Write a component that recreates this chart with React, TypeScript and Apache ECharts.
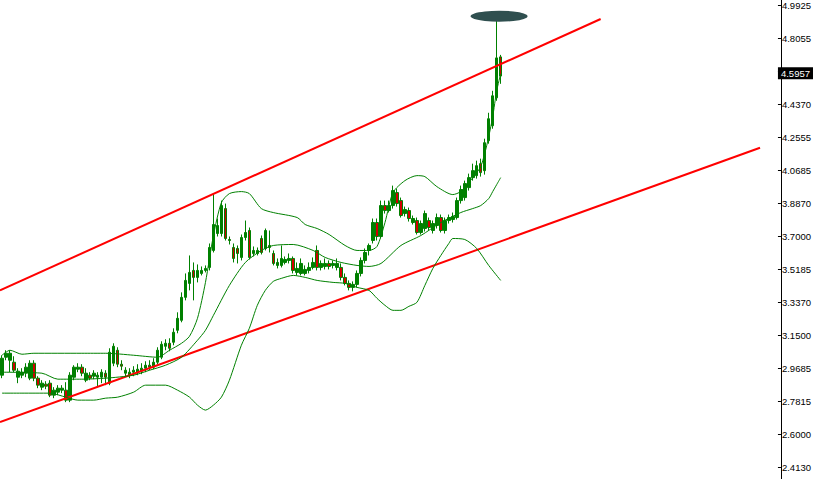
import React, { useEffect, useRef } from "react";
import * as echarts from "echarts";

// Right-axis tick labels, bottom to top
const tickLabels = [
  "2.4130", "2.6000", "2.7815", "2.9685", "3.1500", "3.3370", "3.5185", "3.7000",
  "3.8870", "4.0685", "4.2555", "4.4370", "4.6240", "4.8055", "4.9925",
];
const priceMin = 2.413;
const priceMax = 4.9925;
const lastPrice = 4.5957;
const slotCount = 195;
const categories = Array.from({ length: slotCount }, (_, i) => String(i));

// [open, close, low, high]
const candles = [
  [2.9256, 3.0203, 2.9089, 3.037], [3.0259, 3.0481, 3.0091, 3.0648], [3.0091, 3.0481, 2.9423, 3.0648],
  [2.998, 2.9534, 2.9423, 3.0314], [2.9145, 2.9479, 2.881, 2.9646], [2.9256, 2.9423, 2.9089, 2.9646],
  [2.9367, 2.9702, 2.9145, 2.9924], [2.9089, 2.9924, 2.8977, 3.0091], [2.9924, 2.9089, 2.8921, 3.0091],
  [2.9089, 2.8699, 2.8531, 2.92], [2.8587, 2.881, 2.842, 2.8977], [2.8754, 2.8643, 2.8476, 2.8921],
  [2.881, 2.8141, 2.803, 2.8977], [2.8141, 2.842, 2.7974, 2.8587], [2.8309, 2.8531, 2.8141, 2.8699],
  [2.842, 2.8531, 2.8253, 2.8699], [2.842, 2.7863, 2.7751, 2.8865], [2.7863, 2.9256, 2.7751, 2.9423],
  [2.9145, 2.9702, 2.8977, 2.9813], [2.959, 2.9702, 2.9423, 2.9924], [2.9702, 2.9367, 2.92, 2.9869],
  [2.8977, 2.9367, 2.8865, 2.9646], [2.9256, 2.9089, 2.8977, 2.9423], [2.92, 2.9367, 2.9033, 2.9534],
  [2.9145, 2.9256, 2.8587, 2.9423], [2.9145, 2.9423, 2.881, 2.959], [2.9367, 2.9145, 2.8699, 2.9534],
  [2.881, 3.0537, 2.8699, 3.076], [2.9924, 3.0871, 2.9758, 3.1038], [3.0648, 2.9869, 2.9702, 3.0816],
  [2.9869, 2.9758, 2.9534, 3.0091], [2.9367, 2.9534, 2.92, 2.9702], [2.9256, 2.9423, 2.9089, 2.9646],
  [2.9423, 2.9534, 2.92, 2.9758], [2.9423, 2.959, 2.9256, 2.9869], [2.9479, 2.9646, 2.9311, 2.9924],
  [2.9646, 2.9813, 2.9423, 3.0035], [2.9813, 2.9702, 2.9534, 3.0091], [2.9702, 2.998, 2.959, 3.0203],
  [2.998, 3.0648, 2.9869, 3.0816], [3.0259, 3.0983, 3.0147, 3.115], [3.0871, 3.1038, 3.0648, 3.1261],
  [3.1038, 3.076, 3.0593, 3.1317], [3.1094, 3.1651, 3.0927, 3.1874], [3.1763, 3.2431, 3.1596, 3.2766],
  [3.232, 3.3601, 3.2209, 3.388], [3.3601, 3.4548, 3.3434, 3.4938], [3.4381, 3.4994, 3.3991, 3.5941],
  [3.5105, 3.4716, 3.3434, 3.5551], [3.4716, 3.5105, 3.4437, 3.544], [3.4938, 3.5105, 3.4827, 3.5328],
  [3.5105, 3.5217, 3.4994, 3.5384], [3.5273, 3.6387, 3.5105, 3.661], [3.622, 3.7668, 3.6108, 3.9395],
  [3.7167, 3.7613, 3.7, 3.8003], [3.7167, 3.8727, 3.7, 3.9005], [3.856, 3.6888, 3.6777, 3.8838],
  [3.6833, 3.6777, 3.6554, 3.6999], [3.6387, 3.5774, 3.5551, 3.661], [3.6331, 3.6053, 3.5495, 3.6498],
  [3.583, 3.6944, 3.5663, 3.7111], [3.6944, 3.7223, 3.6777, 3.7891], [3.7334, 3.583, 3.5718, 3.7501],
  [3.6053, 3.622, 3.5886, 3.6443], [3.6053, 3.622, 3.5941, 3.6387], [3.6888, 3.6108, 3.5997, 3.7055],
  [3.6331, 3.7334, 3.622, 3.7445], [3.6498, 3.6387, 3.6108, 3.7334], [3.6053, 3.5495, 3.5384, 3.622],
  [3.5384, 3.5551, 3.5217, 3.5774], [3.5384, 3.5774, 3.5273, 3.6498], [3.5551, 3.5718, 3.544, 3.5886],
  [3.5663, 3.5774, 3.5495, 3.6053], [3.5774, 3.5105, 3.4938, 3.5886], [3.4994, 3.5217, 3.4827, 3.5551],
  [3.4938, 3.5495, 3.4827, 3.5774], [3.4938, 3.5161, 3.4827, 3.5384], [3.5105, 3.5273, 3.4938, 3.5551],
  [3.5273, 3.5551, 3.5161, 3.583], [3.622, 3.5273, 3.5105, 3.6498], [3.5273, 3.5495, 3.5105, 3.5663],
  [3.5328, 3.5495, 3.5161, 3.5774], [3.5495, 3.5328, 3.5161, 3.5663], [3.5384, 3.5495, 3.5217, 3.5663],
  [3.5273, 3.5495, 3.5105, 3.5774], [3.5273, 3.4716, 3.4548, 3.5495], [3.4716, 3.4381, 3.427, 3.4938],
  [3.4381, 3.4158, 3.3991, 3.4548], [3.4158, 3.4325, 3.3936, 3.4493], [3.4325, 3.4938, 3.4158, 3.5105],
  [3.4938, 3.5663, 3.4771, 3.583], [3.5663, 3.6108, 3.5495, 3.6331], [3.622, 3.6498, 3.5941, 3.661],
  [3.6777, 3.778, 3.661, 3.8003], [3.778, 3.6999, 3.6777, 3.8003], [3.6999, 3.8727, 3.6888, 3.9005],
  [3.8727, 3.8448, 3.8281, 3.9005], [3.8448, 3.8727, 3.8337, 3.9005], [3.8727, 3.9563, 3.856, 3.9841],
  [3.9451, 3.8838, 3.8671, 3.9674], [3.9005, 3.817, 3.8058, 3.9173], [3.8281, 3.8504, 3.8114, 3.8671],
  [3.8448, 3.8003, 3.7835, 3.8615], [3.778, 3.8003, 3.7668, 3.817], [3.7891, 3.7223, 3.7111, 3.8058],
  [3.7223, 3.7724, 3.7111, 3.7891], [3.7445, 3.8281, 3.7278, 3.8448], [3.7891, 3.7501, 3.7334, 3.8058],
  [3.7334, 3.7724, 3.7167, 3.7891], [3.7613, 3.8058, 3.7445, 3.8281], [3.8058, 3.7334, 3.7223, 3.8226],
  [3.7334, 3.7891, 3.7167, 3.8058], [3.7891, 3.8058, 3.7724, 3.8226], [3.7947, 3.8114, 3.778, 3.8337],
  [3.8058, 3.9005, 3.7947, 3.9173], [3.9005, 3.9618, 3.8838, 3.9841], [3.9173, 3.9953, 3.9005, 4.012],
  [3.973, 4.0287, 3.9563, 4.051], [4.0287, 4.0677, 4.012, 4.1066], [4.0398, 4.0955, 4.0231, 4.1234],
  [4.1067, 4.0566, 4.0343, 4.1346], [4.0677, 4.2237, 4.0455, 4.246], [4.2348, 4.3574, 4.2181, 4.3908],
  [4.3184, 4.4855, 4.3017, 4.5134], [4.4744, 4.6972, 4.4577, 4.9312], [4.7028, 4.5957, 4.5524, 4.714],
];

// Bollinger bands [barIndex, price]
const upperBand = [
  [0, 3.037], [2, 3.0648], [5, 3.0426], [8, 3.0481], [20, 3.0481], [26, 3.0481], [33, 3.037],
  [39, 3.0259], [42, 3.0648], [45, 3.1038], [47, 3.1428], [49, 3.2431], [51, 3.4437], [53, 3.7055],
  [55, 3.8894], [57, 3.9395], [60, 3.9507], [62, 3.9395], [65, 3.856], [68, 3.8337], [74, 3.8058],
  [76, 3.7668], [79, 3.7445], [82, 3.7111], [86, 3.6498], [89, 3.622], [92, 3.622], [94, 3.6443],
  [96, 3.778], [98, 3.9451], [101, 4.012], [104, 4.0398], [106, 4.0343], [109, 3.9785], [113, 3.934],
  [115, 3.9507], [117, 4.0008], [119, 4.0565], [120, 4.09], [121, 4.1624], [122, 4.2571],
  [123, 4.3685], [124, 4.5134], [125, 4.6081],
];
const middleBand = [
  [0, 2.9423], [10, 2.9367], [14, 2.9033], [20, 2.9033], [26, 2.9089], [33, 2.9256], [37, 2.9534],
  [41, 2.9813], [45, 3.0259], [49, 3.1206], [51, 3.1763], [53, 3.2598], [57, 3.427], [61, 3.5551],
  [65, 3.622], [68, 3.6498], [73, 3.6554], [78, 3.622], [81, 3.583], [85, 3.5551], [89, 3.5384],
  [92, 3.5328], [95, 3.5495], [100, 3.6498], [105, 3.7055], [110, 3.778], [115, 3.8337],
  [118, 3.856], [120, 3.8727], [122, 3.9117], [123, 3.9507], [124, 3.9897], [125, 4.0287],
];
const lowerBand = [
  [0, 2.8253], [5, 2.8253], [12, 2.8253], [16, 2.803], [19, 2.7863], [23, 2.7863], [26, 2.7974],
  [29, 2.803], [33, 2.8309], [36, 2.8699], [41, 2.8699], [44, 2.842], [47, 2.803], [49, 2.7584],
  [51, 2.7306], [53, 2.7584], [55, 2.803], [57, 2.8977], [60, 3.0927], [62, 3.1874], [64, 3.3156],
  [66, 3.3991], [68, 3.4493], [70, 3.466], [73, 3.4827], [76, 3.4716], [79, 3.4548], [83, 3.4437],
  [86, 3.4381], [89, 3.4158], [92, 3.3991], [94, 3.3546], [96, 3.3156], [98, 3.2877], [100, 3.2877],
  [102, 3.31], [104, 3.3323], [106, 3.427], [108, 3.5217], [110, 3.5941], [112, 3.661], [113, 3.6888],
  [116, 3.6833], [119, 3.6331], [122, 3.5384], [125, 3.4548],
];

// Trend lines [barIndex, price]
const upperTrend = [[-0.5, 3.3991], [150.06, 4.9145]];
const lowerTrend = [[-0.5, 2.6637], [190.01, 4.1958]];
// Dark marker object near the top
const markerBlob = [[124.6, 4.93]];

const labelFont = "'Liberation Sans', Arial, sans-serif";

export default function App() {
  const ref = useRef<HTMLDivElement>(null);
  useEffect(() => {
    if (!ref.current) return;
    const chart = echarts.init(ref.current, undefined, { renderer: "svg" });
    const bandStyle = { color: "#008000", width: 1 };
    chart.setOption({
      animation: false,
      backgroundColor: "#ffffff",
      grid: [
        { left: 0, right: 33, top: 4, bottom: 12 },
        { left: 0, right: 33, top: 0, bottom: 0 },
      ],
      xAxis: [
        { type: "category", data: categories, gridIndex: 0, show: false, boundaryGap: true },
        { type: "value", gridIndex: 0, min: -0.5, max: slotCount - 0.5, show: false },
        { type: "value", gridIndex: 1, min: 0, max: 1, show: false },
      ],
      yAxis: [
        { type: "value", gridIndex: 0, position: "left", min: priceMin, max: priceMax, show: false },
        {
          type: "value",
          gridIndex: 0,
          position: "right",
          min: 0,
          max: tickLabels.length - 1,
          interval: 1,
          axisLine: { show: false },
          axisTick: { show: true, length: 3, lineStyle: { color: "#000" } },
          axisLabel: {
            show: true,
            margin: 4,
            color: "#000",
            fontSize: 9.5,
            fontFamily: labelFont,
            formatter: (v: number) => tickLabels[Math.round(v)] ?? "",
          },
          splitLine: { show: false },
        },
        {
          type: "value",
          gridIndex: 1,
          position: "right",
          min: 0,
          max: 1,
          axisLine: { show: true, onZero: false, lineStyle: { color: "#000", width: 1 } },
          axisTick: { show: false },
          axisLabel: { show: false },
          splitLine: { show: false },
        },
      ],
      series: [
        {
          type: "line",
          xAxisIndex: 1,
          yAxisIndex: 0,
          data: upperTrend,
          symbol: "none",
          lineStyle: { color: "#FF0000", width: 2 },
          silent: true,
        },
        {
          type: "line",
          xAxisIndex: 1,
          yAxisIndex: 0,
          data: lowerTrend,
          symbol: "none",
          lineStyle: { color: "#FF0000", width: 2 },
          silent: true,
        },
        { type: "line", xAxisIndex: 1, yAxisIndex: 0, data: upperBand, symbol: "none", smooth: 0.25, lineStyle: bandStyle },
        { type: "line", xAxisIndex: 1, yAxisIndex: 0, data: middleBand, symbol: "none", smooth: 0.25, lineStyle: bandStyle },
        { type: "line", xAxisIndex: 1, yAxisIndex: 0, data: lowerBand, symbol: "none", smooth: 0.25, lineStyle: bandStyle },
        {
          type: "candlestick",
          xAxisIndex: 0,
          yAxisIndex: 0,
          data: candles,
          barWidth: 3,
          itemStyle: {
            color: "#008000",
            color0: "#D00000",
            borderColor: "#008000",
            borderColor0: "#008000",
            borderWidth: 1,
          },
          markLine: {
            silent: true,
            symbol: ["none", "none"],
            lineStyle: { width: 0, color: "rgba(0,0,0,0)", type: "solid" },
            data: [{ yAxis: lastPrice }],
            label: {
              show: true,
              position: "end",
              distance: 0,
              formatter: () => lastPrice.toFixed(4),
              color: "#ffffff",
              backgroundColor: "#000000",
              padding: [1, 3, 1, 3],
              fontSize: 9.5,
              fontFamily: labelFont,
              offset: [0, -2],
            },
          },
        },
        {
          type: "scatter",
          xAxisIndex: 1,
          yAxisIndex: 0,
          data: markerBlob,
          symbol: "circle",
          symbolSize: [57, 11],
          itemStyle: { color: "#2F4F4F", opacity: 1 },
          silent: true,
        },
      ],
    });
    return () => chart.dispose();
  }, []);
  return (
    <div
      ref={ref}
      style={{ position: "fixed", left: 0, top: 0, width: 814, height: 479, background: "#fff" }}
    />
  );
}
